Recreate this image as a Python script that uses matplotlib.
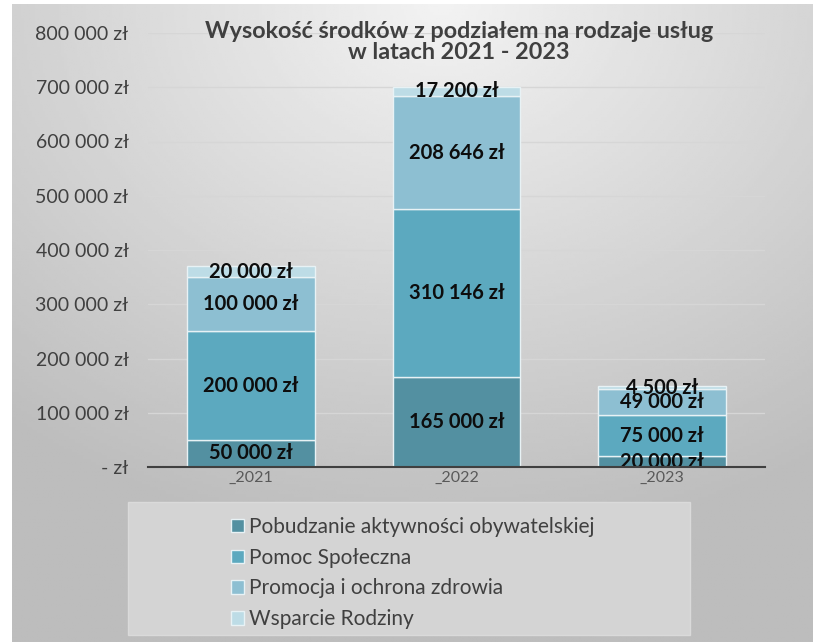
import numpy as np
import matplotlib.pyplot as plt
from matplotlib.patches import Rectangle

# data
years = ['_2021', '_2022', '_2023']
categories = ['Pobudzanie aktywności obywatelskiej', 'Pomoc Społeczna',
              'Promocja i ochrona zdrowia', 'Wsparcie Rodziny']
pobudzanie = [50000, 165000, 20000]
pomoc = [200000, 310146, 75000]
promocja = [100000, 208646, 49000]
wsparcie = [20000, 17200, 4500]
series = [pobudzanie, pomoc, promocja, wsparcie]
colors = ['#5390a1', '#5ca9bf', '#8dbfd2', '#bddce6']
yticks = [0, 100000, 200000, 300000, 400000, 500000, 600000, 700000, 800000]

plt.rcParams['font.family'] = ['Lato', 'DejaVu Sans']
W, H = 813, 642
fig = plt.figure(figsize=(W / 100, H / 100), dpi=100)
fig.patch.set_facecolor('white')

# gradient background
bg = fig.add_axes([12 / W, 0, 1 - 12 / W, 1 - 4 / H])
yy, xx = np.mgrid[0:200, 0:300]
dist = np.sqrt(((xx - 160) / 300.0) ** 2 + (yy / 200.0) ** 2)
shade = np.clip(0.95 - 0.26 * dist / 1.05, 0.74, 0.95)
bg.imshow(shade, cmap='gray', vmin=0, vmax=1, aspect='auto', extent=[0, 1, 0, 1], origin='upper')
bg.axis('off')

ax = fig.add_axes([148 / W, 1 - 467 / H, (765 - 148) / W, (467 - 33) / H])
ax.set_facecolor('none')

x = np.arange(len(years))
bottom = np.zeros(len(years))
for vals, col, name in zip(series, colors, categories):
    ax.bar(x, vals, 0.62, bottom=bottom, color=col, edgecolor='#e8f2f5',
           linewidth=1, label=name, zorder=3)
    for xi, b, v in zip(x, bottom, vals):
        ax.text(xi, b + v / 2, f'{v:,} zł'.replace(',', ' '), ha='center', va='center',
                fontsize=14.5, fontweight='bold', color='#0d0d0d', zorder=4)
    bottom += np.array(vals)

ax.set_xlim(-0.5, 2.5)
ax.set_ylim(0, 800000)
ax.set_yticks(yticks)
ax.set_yticklabels(['- zł'] + [f'{v:,} zł'.replace(',', ' ') for v in yticks[1:]],
                   fontsize=14, color='#404040')
ax.set_xticks(x)
ax.set_xticklabels(years, fontsize=11.5, color='#595959')
ax.tick_params(length=0)
ax.tick_params(axis='x', pad=3)
ax.tick_params(axis='y', pad=14)
ax.grid(axis='y', color='#d6d6d6', linewidth=1, zorder=0)
for s in ['top', 'right', 'left']:
    ax.spines[s].set_visible(False)
ax.spines['bottom'].set_color('#404040')
ax.spines['bottom'].set_linewidth(1.5)
ax.spines['bottom'].set_zorder(5)

fig.text(459 / W, 1 - 42 / H, 'Wysokość środków z podziałem na rodzaje usług\nw latach 2021 - 2023',
         ha='center', va='center', fontsize=16.8, fontweight='bold', color='#404040',
         linespacing=0.95)

# legend box
fig.patches.append(Rectangle((128 / W, 1 - 635 / H), (690 - 128) / W, (635 - 502) / H,
                             transform=fig.transFigure, facecolor='#d4d4d4',
                             edgecolor='#dadada', linewidth=1))
handles, labels = ax.get_legend_handles_labels()
fig.legend(handles, labels, loc='upper left', bbox_to_anchor=(212 / W, 1 - 498 / H),
           frameon=False, fontsize=15, labelcolor='#404040', handlelength=0.62,
           handleheight=0.62, handletextpad=0.25, labelspacing=0.52)

fig.savefig('out.png', dpi=100)
